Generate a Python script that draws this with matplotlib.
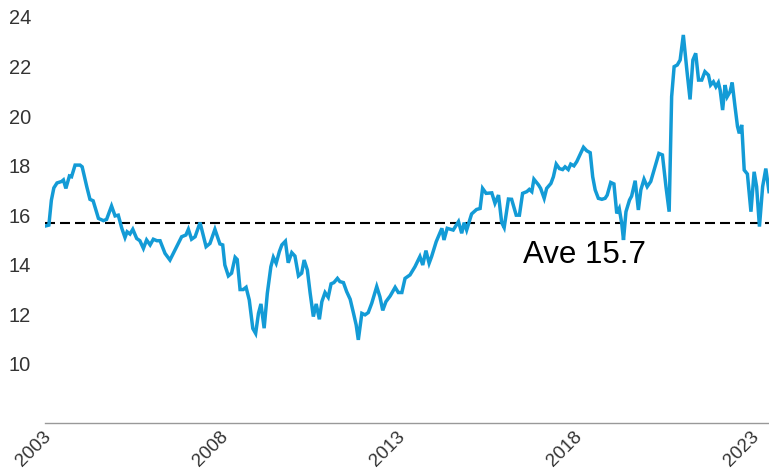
import matplotlib
matplotlib.use('Agg')
import matplotlib.pyplot as plt
import matplotlib.transforms as mtransforms
import numpy as np

# decimal years and values
years = [2003.00, 2003.11, 2003.18, 2003.25, 2003.34, 2003.47, 2003.52, 2003.59, 2003.69, 2003.75,
         2003.85, 2003.99, 2004.05, 2004.18, 2004.27, 2004.36, 2004.51, 2004.65, 2004.74, 2004.88,
         2004.98, 2005.07, 2005.17, 2005.26, 2005.32, 2005.40, 2005.48, 2005.59, 2005.68, 2005.78,
         2005.87, 2005.97, 2006.06, 2006.16, 2006.25, 2006.39, 2006.53, 2006.72, 2006.86, 2006.98,
         2007.05, 2007.14, 2007.24, 2007.38, 2007.55, 2007.66, 2007.80, 2007.94, 2008.02, 2008.08,
         2008.18, 2008.27, 2008.37, 2008.43, 2008.51, 2008.60, 2008.68, 2008.77, 2008.87, 2008.95,
         2009.03, 2009.10, 2009.19, 2009.28, 2009.38, 2009.45, 2009.53, 2009.62, 2009.69, 2009.79,
         2009.87, 2009.97, 2010.06, 2010.16, 2010.25, 2010.32, 2010.41, 2010.49, 2010.58, 2010.66,
         2010.75, 2010.82, 2010.91, 2011.00, 2011.08, 2011.16, 2011.26, 2011.33, 2011.43, 2011.52,
         2011.62, 2011.71, 2011.79, 2011.85, 2011.95, 2012.04, 2012.13, 2012.23, 2012.37, 2012.46,
         2012.54, 2012.63, 2012.75, 2012.89, 2012.98, 2013.08, 2013.17, 2013.31, 2013.45, 2013.59,
         2013.67, 2013.76, 2013.85, 2013.92, 2014.05, 2014.21, 2014.27, 2014.36, 2014.53, 2014.68,
         2014.77, 2014.84, 2014.91, 2015.05, 2015.19, 2015.29, 2015.36, 2015.46, 2015.62, 2015.71,
         2015.81, 2015.90, 2015.97, 2016.09, 2016.18, 2016.31, 2016.40, 2016.49, 2016.61, 2016.68,
         2016.75, 2016.81, 2016.94, 2017.00, 2017.10, 2017.17, 2017.29, 2017.36, 2017.44, 2017.53,
         2017.62, 2017.69, 2017.78, 2017.85, 2017.94, 2018.02, 2018.11, 2018.21, 2018.30, 2018.40,
         2018.47, 2018.54, 2018.63, 2018.73, 2018.82, 2018.88, 2018.98, 2019.07, 2019.15, 2019.22,
         2019.29, 2019.34, 2019.41, 2019.51, 2019.57, 2019.67, 2019.76, 2019.83, 2019.92, 2020.01,
         2020.11, 2020.23, 2020.34, 2020.44, 2020.54, 2020.63, 2020.70, 2020.77, 2020.86, 2020.94,
         2021.03, 2021.13, 2021.22, 2021.30, 2021.38, 2021.46, 2021.55, 2021.64, 2021.74, 2021.80,
         2021.88, 2021.95, 2022.02, 2022.07, 2022.14, 2022.21, 2022.27, 2022.35, 2022.41, 2022.49,
         2022.56, 2022.61, 2022.68, 2022.75, 2022.84, 2022.94, 2023.03, 2023.10, 2023.18, 2023.27,
         2023.36, 2023.45]

values = [15.56, 15.60, 16.60, 17.10, 17.30, 17.36, 17.42, 17.08, 17.58, 17.55,
          18.02, 18.02, 17.95, 17.15, 16.64, 16.58, 15.87, 15.78, 15.83, 16.37,
          15.97, 16.00, 15.47, 15.10, 15.33, 15.24, 15.43, 15.06, 14.97, 14.66,
          15.00, 14.80, 15.03, 14.97, 14.97, 14.46, 14.19, 14.73, 15.13, 15.20,
          15.43, 15.03, 15.13, 15.70, 14.73, 14.86, 15.43, 14.84, 14.80, 13.99,
          13.55, 13.66, 14.30, 14.21, 13.00, 13.00, 13.09, 12.58, 11.43, 11.23,
          12.04, 12.42, 11.44, 12.85, 13.92, 14.30, 14.06, 14.53, 14.80, 14.95,
          14.08, 14.49, 14.35, 13.55, 13.66, 14.19, 13.79, 12.85, 11.91, 12.42,
          11.80, 12.51, 12.88, 12.69, 13.23, 13.28, 13.45, 13.32, 13.28, 12.92,
          12.61, 12.07, 11.57, 10.97, 12.04, 11.98, 12.07, 12.45, 13.12, 12.71,
          12.16, 12.51, 12.74, 13.09, 12.88, 12.88, 13.45, 13.59, 13.92, 14.33,
          13.99, 14.57, 14.06, 14.33, 14.93, 15.47, 15.00, 15.47, 15.40, 15.74,
          15.27, 15.70, 15.40, 16.05, 16.23, 16.27, 17.08, 16.88, 16.90, 16.48,
          16.81, 15.70, 15.50, 16.65, 16.64, 16.00, 16.00, 16.88, 16.95, 17.04,
          16.95, 17.45, 17.22, 17.08, 16.68, 17.08, 17.28, 17.55, 18.06, 17.88,
          17.84, 17.95, 17.84, 18.06, 17.99, 18.16, 18.43, 18.74, 18.60, 18.52,
          17.55, 17.02, 16.68, 16.64, 16.68, 16.81, 17.32, 17.26, 16.07, 16.27,
          15.67, 15.00, 16.14, 16.61, 16.77, 17.39, 16.21, 17.02, 17.45, 17.15,
          17.36, 17.95, 18.49, 18.43, 17.15, 16.14, 20.78, 21.99, 22.06, 22.26,
          23.27, 21.85, 20.67, 22.26, 22.53, 21.45, 21.45, 21.79, 21.65, 21.25,
          21.38, 21.18, 21.35, 21.05, 20.24, 21.25, 20.78, 20.98, 21.35, 20.38,
          19.58, 19.30, 19.64, 17.82, 17.66, 16.14, 17.75, 17.15, 15.54, 17.15,
          17.88, 16.95]

average = 15.7
xticks = [2003, 2008, 2013, 2018, 2023]
yticks = [10, 12, 14, 16, 18, 20, 22, 24]

plt.rcParams['font.family'] = ['Liberation Sans', 'DejaVu Sans']

fig = plt.figure(figsize=(7.69, 4.72), dpi=100)
ax = fig.add_axes([0.0585, 0.104, 0.9415, 0.896])

ax.plot(years, values, color='#139bd6', lw=2.5, solid_joinstyle='miter', zorder=3)
ax.axhline(average, color='black', lw=1.5, linestyle=(0, (4.8, 2.4)), zorder=2)
ax.text(2016.49, 14.06, 'Ave 15.7', fontsize=22.5, color='black', va='baseline', ha='left')

ax.set_xlim(years[0], years[-1])
ax.set_ylim(7.62, 24.68)
ax.set_xticks(xticks)
ax.set_xticklabels([str(y) for y in xticks], rotation=45, ha='right', fontsize=13.5, color='#333333')
ax.set_yticks(yticks)
ax.set_yticklabels([str(y) for y in yticks], fontsize=14.4, color='#333333')
ax.tick_params(axis='both', length=0)
ax.tick_params(axis='y', pad=10)
ax.tick_params(axis='x', pad=4)

# nudge the rotated year labels a little right, as in the reference
offset = mtransforms.ScaledTranslation(7 / 72, 0, fig.dpi_scale_trans)
for lab in ax.get_xticklabels():
    lab.set_transform(lab.get_transform() + offset)

for s in ['top', 'right', 'left']:
    ax.spines[s].set_visible(False)
ax.spines['bottom'].set_color('#999999')
ax.spines['bottom'].set_linewidth(1.0)

fig.savefig('out.png', dpi=100)
